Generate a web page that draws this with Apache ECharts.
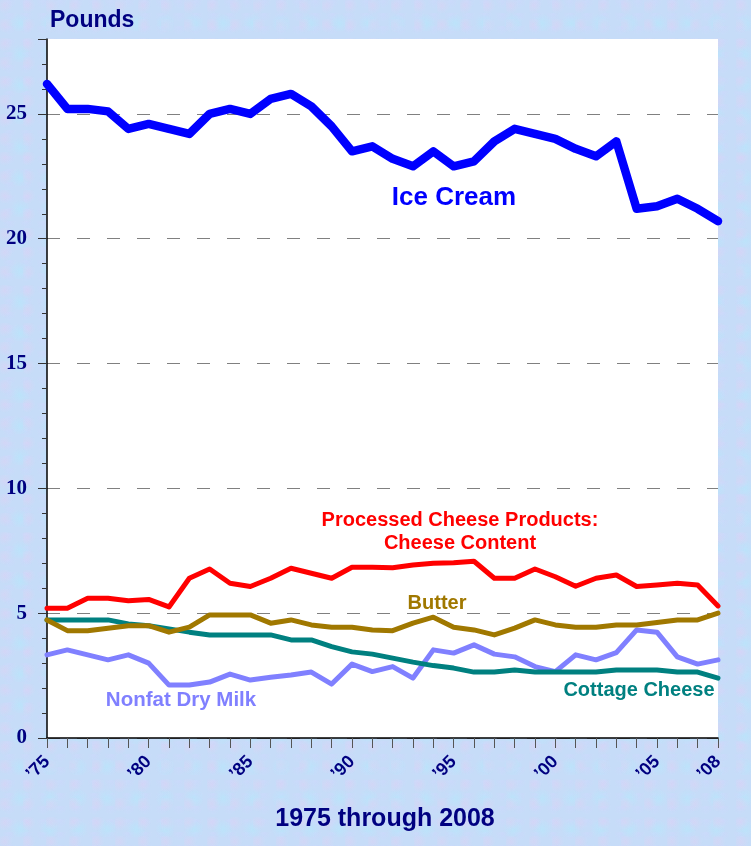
<!DOCTYPE html>
<html>
<head>
    <meta charset="utf-8">
    <title>Per capita consumption</title>
    <script src="https://cdn.jsdelivr.net/npm/echarts@6/dist/echarts.min.js"></script>
    <style type="text/css">
        html,
        body {
            margin: 0;
            padding: 0;
            width: 100%;
            height: 100%;
            overflow: hidden;
        }
        body {
            background-color: #c6dcf8;
            background-image:
                radial-gradient(circle at 20% 30%, rgba(232, 205, 242, 0.35) 0, rgba(232, 205, 242, 0) 8px),
                radial-gradient(circle at 70% 75%, rgba(180, 232, 252, 0.55) 0, rgba(180, 232, 252, 0) 10px),
                radial-gradient(circle at 55% 15%, rgba(205, 215, 252, 0.5) 0, rgba(205, 215, 252, 0) 7px);
            background-size: 23px 19px, 29px 31px, 17px 13px;
        }
        #chart {
            width: 751px;
            height: 846px;
        }
    </style>
</head>
<body>
    <div id="chart"></div>
    <script type="text/javascript">
        // 1975 - 2008, pounds per person
        var years = [1975, 1976, 1977, 1978, 1979, 1980, 1981, 1982, 1983, 1984, 1985, 1986,
            1987, 1988, 1989, 1990, 1991, 1992, 1993, 1994, 1995, 1996, 1997, 1998, 1999,
            2000, 2001, 2002, 2003, 2004, 2005, 2006, 2007, 2008];
        var iceCream = [26.2, 25.2, 25.2, 25.1, 24.4, 24.6, 24.4, 24.2, 25.0, 25.2, 25.0, 25.6,
            25.8, 25.3, 24.5, 23.5, 23.7, 23.2, 22.9, 23.5, 22.9, 23.1, 23.9, 24.4, 24.2,
            24.0, 23.6, 23.3, 23.9, 21.2, 21.3, 21.6, 21.2, 20.7];
        var processedCheese = [5.2, 5.2, 5.6, 5.6, 5.5, 5.55, 5.25, 6.4, 6.77, 6.2, 6.07, 6.4,
            6.8, 6.6, 6.4, 6.84, 6.84, 6.82, 6.93, 7.0, 7.02, 7.08, 6.4, 6.4, 6.77,
            6.46, 6.08, 6.4, 6.53, 6.07, 6.13, 6.2, 6.13, 5.29];
        var butter = [4.73, 4.3, 4.3, 4.4, 4.5, 4.5, 4.24, 4.44, 4.93, 4.93, 4.93, 4.6,
            4.73, 4.53, 4.44, 4.44, 4.33, 4.3, 4.6, 4.84, 4.44, 4.33, 4.13, 4.4, 4.73,
            4.53, 4.44, 4.44, 4.53, 4.53, 4.63, 4.73, 4.73, 5.0];
        var cottageCheese = [4.73, 4.73, 4.73, 4.73, 4.57, 4.5, 4.37, 4.24, 4.13, 4.13, 4.13, 4.13,
            3.93, 3.93, 3.66, 3.45, 3.36, 3.2, 3.04, 2.9, 2.8, 2.64, 2.64, 2.72, 2.64,
            2.64, 2.64, 2.64, 2.72, 2.72, 2.72, 2.64, 2.64, 2.4];
        var nonfatDryMilk = [3.33, 3.53, 3.33, 3.13, 3.33, 3.0, 2.12, 2.12, 2.24, 2.56, 2.32, 2.43,
            2.52, 2.64, 2.16, 2.96, 2.66, 2.86, 2.4, 3.53, 3.4, 3.73, 3.36, 3.25, 2.86,
            2.66, 3.33, 3.13, 3.42, 4.33, 4.24, 3.25, 2.96, 3.13];
        var labeledYears = [1975, 1980, 1985, 1990, 1995, 2000, 2005, 2008];

        var navy = '#000080';
        var sans = 'Arial, "Liberation Sans", sans-serif';

        function pairs(values) {
            return years.map(function (y, i) {
                return [y, values[i]];
            });
        }

        function line(name, values, color, width) {
            return {
                name: name,
                type: 'line',
                data: pairs(values),
                showSymbol: false,
                symbol: 'none',
                silent: true,
                lineStyle: { color: color, width: width, join: 'round', cap: 'round' },
                z: 3
            };
        }

        function note(text, x, y, color, size) {
            return {
                type: 'text', x: x, y: y,
                style: {
                    text: text, fill: color, align: 'center', verticalAlign: 'middle',
                    lineHeight: Math.round(size * 1.15),
                    font: 'bold ' + size + 'px ' + sans
                }
            };
        }

        // every 5th split line visible, others transparent
        var gridColors = ['#808080', 'rgba(0,0,0,0)', 'rgba(0,0,0,0)', 'rgba(0,0,0,0)', 'rgba(0,0,0,0)'];

        var myChart = echarts.init(document.getElementById('chart'));

        var option = {
            backgroundColor: 'transparent',
            animation: false,
            grid: {
                left: 47,
                right: 33,
                top: 39,
                bottom: 108,
                show: true,
                backgroundColor: '#ffffff',
                borderWidth: 0,
                containLabel: false,
                outerBoundsMode: 'none'
            },
            xAxis: {
                type: 'value',
                min: 1975,
                max: 2008,
                interval: 1,
                splitLine: { show: false },
                axisLine: { show: true, lineStyle: { color: '#000', width: 1.5 } },
                axisTick: { show: true, length: 10, lineStyle: { color: '#555', width: 1 } },
                axisLabel: {
                    rotate: 45,
                    margin: 21,
                    color: navy,
                    fontFamily: sans,
                    fontWeight: 'bold',
                    fontSize: 18,
                    hideOverlap: false,
                    showMinLabel: true,
                    showMaxLabel: true,
                    formatter: function (v) {
                        if (labeledYears.indexOf(v) < 0) return '';
                        return '\u2019' + String(v).slice(2);
                    }
                }
            },
            yAxis: [{
                type: 'value',
                min: 0,
                max: 28,
                interval: 1,
                axisLine: { show: true, lineStyle: { color: '#000', width: 1.5 } },
                axisTick: { show: true, length: 5, lineStyle: { color: '#333' } },
                splitLine: {
                    show: true,
                    lineStyle: { color: gridColors, type: [13, 17], width: 1.2 }
                },
                axisLabel: {
                    margin: 20,
                    color: navy,
                    fontFamily: '"Liberation Serif", "Times New Roman", serif',
                    fontWeight: 'bold',
                    fontSize: 21,
                    formatter: function (v) {
                        return v % 5 === 0 ? String(v) : '';
                    }
                }
            }, {
                type: 'value',
                position: 'left',
                min: 0,
                max: 28,
                interval: 5,
                axisLine: { show: false },
                axisTick: { show: true, length: 9, lineStyle: { color: '#333' } },
                splitLine: { show: false },
                axisLabel: { show: false }
            }],
            graphic: [
                {
                    type: 'text', left: 50, top: 9,
                    style: { text: 'Pounds', fill: navy, font: 'bold 23px ' + sans }
                },
                note('Ice Cream', 454, 198, '#0000ff', 26),
                note('Processed Cheese Products:\nCheese Content', 460, 532, '#ff0000', 20),
                note('Butter', 437, 603, '#a07800', 20),
                note('Cottage Cheese', 639, 690, '#008080', 20),
                note('Nonfat Dry Milk', 181, 700, '#8080ff', 20.5),
                note('1975 through 2008', 385, 819, navy, 25)
            ],
            series: [
                line('Nonfat Dry Milk', nonfatDryMilk, '#8080ff', 5),
                line('Cottage Cheese', cottageCheese, '#008080', 5),
                line('Butter', butter, '#a07800', 5),
                line('Processed Cheese Products', processedCheese, '#ff0000', 5),
                line('Ice Cream', iceCream, '#0000ff', 8.5)
            ]
        };
        myChart.setOption(option);
    </script>
</body>
</html>
